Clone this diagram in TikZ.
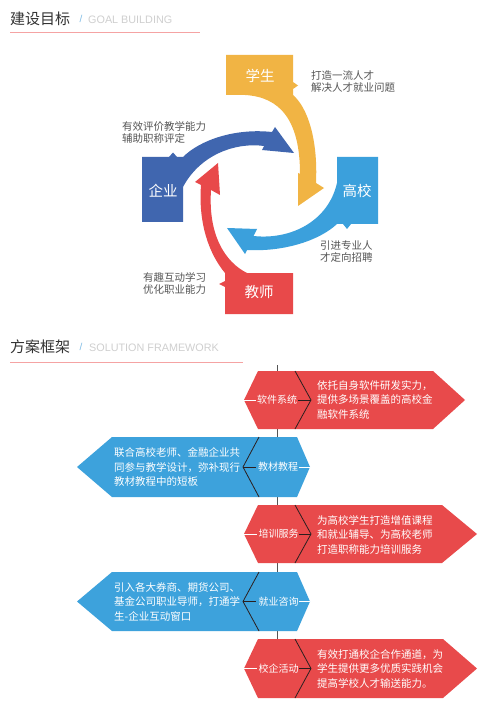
\documentclass[tikz,border=0pt]{standalone}
\usepackage{fontspec}
\setmainfont{Liberation Sans}
\newfontfamily\cjk{Noto Sans CJK SC}
\definecolor{cyel}{HTML}{F1B444}
\definecolor{cdblue}{HTML}{4066AF}
\definecolor{clblue}{HTML}{3BA0DC}
\definecolor{cred}{HTML}{E8494A}
\definecolor{fred}{HTML}{E84A4B}
\definecolor{fblue}{HTML}{3DA2DC}
\definecolor{tgray}{HTML}{555555}
\definecolor{ttext}{HTML}{333333}
\definecolor{rulepink}{HTML}{F5A3A3}
\definecolor{slashblue}{HTML}{7FBCE6}
\definecolor{engray}{HTML}{CFCFCF}
\definecolor{darkline}{HTML}{2A1E1E}
\definecolor{spinegray}{HTML}{555555}
\begin{document}
\begin{tikzpicture}[x=1pt,y=-1pt,
  boxlabel/.style={text=white,font=\cjk\fontsize{14.5}{16}\selectfont,inner sep=0pt},
  sidetext/.style={text=tgray,font=\cjk\fontsize{10.5}{12}\selectfont,align=left,anchor=west,inner sep=0pt},
  desc/.style={text=white,font=\cjk\fontsize{10.5}{14.5}\selectfont,align=left,anchor=west,inner sep=0pt},
  lab/.style={text=white,font=\cjk\fontsize{10}{12}\selectfont,inner sep=0pt},
  chevline/.style={draw=darkline,line width=0.8pt},
  whitedash/.style={draw=white,line width=0.8pt},
  ttl/.style={text=ttext,font=\cjk\fontsize{15}{18}\selectfont,anchor=west,inner sep=0pt},
  entitle/.style={text=engray,font=\fontsize{10.8}{12}\selectfont,anchor=west,inner sep=0pt},
  slashmark/.style={text=slashblue,font=\fontsize{10}{12}\selectfont,inner sep=0pt},
  ruleline/.style={draw=rulepink,line width=1pt}
]
\useasboundingbox[fill=white] (0,0) rectangle (500,708);

% ---------- titles ----------
\node[ttl] (t1) at (10,19) {建设目标};
\node[slashmark] (s1) at (81,19) {/};
\node[entitle] (e1) at (88,19.5) {GOAL BUILDING};
\draw[ruleline] (10,33) -- (200,33);

\node[ttl] (t2) at (10,346.5) {方案框架};
\node[slashmark] (s2) at (81,346.5) {/};
\node[entitle] (e2) at (89,347.5) {SOLUTION FRAMEWORK};
\draw[ruleline] (10,362) -- (243,362);

% ---------- cycle ----------
% yellow (student)
\fill[cyel] (226,55) -- (293,55) -- (293,82) -- (298,85.5) -- (293,89) -- (293,95)
  .. controls (308,108) and (318,140) .. (316,183) -- (324,188) -- (298,206) -- (298,173)
  -- (300,174) .. controls (300,120) and (280,97) .. (245,95) -- (226,95) -- cycle;
% dark blue (enterprise)
\fill[cdblue] (142,157) -- (169,157) -- (173,152.5) -- (177,157) -- (183,157)
  .. controls (200,140) and (235,128) .. (272,132) -- (275,127) -- (294,153) -- (262,150)
  -- (264,146) .. controls (235,142) and (200,155) .. (183,187) -- (183,222) -- (142,222) -- cycle;
% light blue (college)
\fill[clblue] (337,157) -- (378,157) -- (378,224) -- (351,224) -- (347,229) -- (343,224) -- (337,224)
  .. controls (320,240) and (285,252) .. (247,250) -- (245,254) -- (227,228) -- (257,229)
  -- (253.6,236) .. controls (290,240) and (328,222) .. (337,183) -- cycle;
% red (teacher)
\fill[cred] (225,314) -- (293,314) -- (293,273) -- (247,273)
  .. controls (225,262) and (208,235) .. (211,190) -- (220,195) -- (218,163) -- (195,182)
  -- (201,185) .. controls (198,225) and (210,255) .. (225,273) -- (225,281) -- (219,284) -- (225,287) -- cycle;

\node[boxlabel] (xs) at (260,76) {学生};
\node[boxlabel] (qy) at (163,191) {企业};
\node[boxlabel] (gx) at (357,191) {高校};
\node[boxlabel] (js) at (259,292) {教师};

\node[sidetext] (n1) at (311,82) {打造一流人才\\解决人才就业问题};
\node[sidetext] (n2) at (122,132) {有效评价教学能力\\辅助职称评定};
\node[sidetext] (n3) at (320,251.5) {引进专业人\\才定向招聘};
\node[sidetext] (n4) at (143,283) {有趣互动学习\\优化职业能力};

% ---------- framework ----------
\coordinate (sptop) at (277,365);
\coordinate (spbot) at (277,698);
\draw[draw=spinegray,line width=0.8pt] (sptop) -- (spbot);

% item 1 (red, right)
\fill[fred] (244,400) -- (258,371) -- (295,371) -- (311,400) -- (295,429) -- (258,429) -- cycle;
\fill[fred] (295,371) -- (433,371) -- (465,400) -- (433,429) -- (295,429) -- (311,400) -- cycle;
\draw[chevline] (295,371) -- (311,400) -- (295,429);
\draw[whitedash] (244,400) -- (256,400);
\draw[chevline] (298,400) -- (311,400);
\node[lab] (l1) at (277,400) {软件系统};
\node[desc] (d1) at (317,399.5) {依托自身软件研发实力，\\提供多场景覆盖的高校金\\融软件系统};

% item 2 (blue, left)
\fill[fblue] (77,467) -- (112,437) -- (259,437) -- (243,467) -- (259,497) -- (112,497) -- cycle;
\fill[fblue] (259,437) -- (297,437) -- (310,467) -- (297,497) -- (259,497) -- (243,467) -- cycle;
\draw[chevline] (259,437) -- (243,467) -- (259,497);
\draw[chevline] (243,467) -- (256,467);
\draw[whitedash] (299,467) -- (310,467);
\node[lab] (l2) at (278,467) {教材教程};
\node[desc] (d2) at (114,467) {联合高校老师、金融企业共\\同参与教学设计，弥补现行\\教材教程中的短板};

% item 3 (red, right)
\fill[fred] (244,534) -- (258,505) -- (295,505) -- (311,534) -- (295,563) -- (258,563) -- cycle;
\fill[fred] (295,505) -- (442,505) -- (477,534) -- (442,563) -- (295,563) -- (311,534) -- cycle;
\draw[chevline] (295,505) -- (311,534) -- (295,563);
\draw[whitedash] (244,534) -- (257,534);
\draw[chevline] (299,534) -- (311,534);
\node[lab] (l3) at (278.5,534) {培训服务};
\node[desc] (d3) at (317,534.5) {为高校学生打造增值课程\\和就业辅导、为高校老师\\打造职称能力培训服务};

% item 4 (blue, left)
\fill[fblue] (77,601.5) -- (112,572) -- (259,572) -- (243,601.5) -- (259,631) -- (112,631) -- cycle;
\fill[fblue] (259,572) -- (297,572) -- (310,601.5) -- (297,631) -- (259,631) -- (243,601.5) -- cycle;
\draw[chevline] (259,572) -- (243,601.5) -- (259,631);
\draw[chevline] (243,601.5) -- (256,601.5);
\draw[whitedash] (299,601.5) -- (310,601.5);
\node[lab] (l4) at (278.5,601.5) {就业咨询};
\node[desc] (d4) at (114,601.5) {引入各大券商、期货公司、\\基金公司职业导师，打通学\\生-企业互动窗口};

% item 5 (red, right)
\fill[fred] (244,668.5) -- (258,639) -- (295,639) -- (311,668.5) -- (295,698) -- (258,698) -- cycle;
\fill[fred] (295,639) -- (443,639) -- (477,668.5) -- (443,698) -- (295,698) -- (311,668.5) -- cycle;
\draw[chevline] (295,639) -- (311,668.5) -- (295,698);
\draw[whitedash] (244,668.5) -- (257,668.5);
\draw[chevline] (299,668.5) -- (311,668.5);
\node[lab] (l5) at (278.5,668.5) {校企活动};
\node[desc] (d5) at (317,668.5) {有效打通校企合作通道，为\\学生提供更多优质实践机会\\提高学校人才输送能力。};
\end{tikzpicture}
\end{document}
